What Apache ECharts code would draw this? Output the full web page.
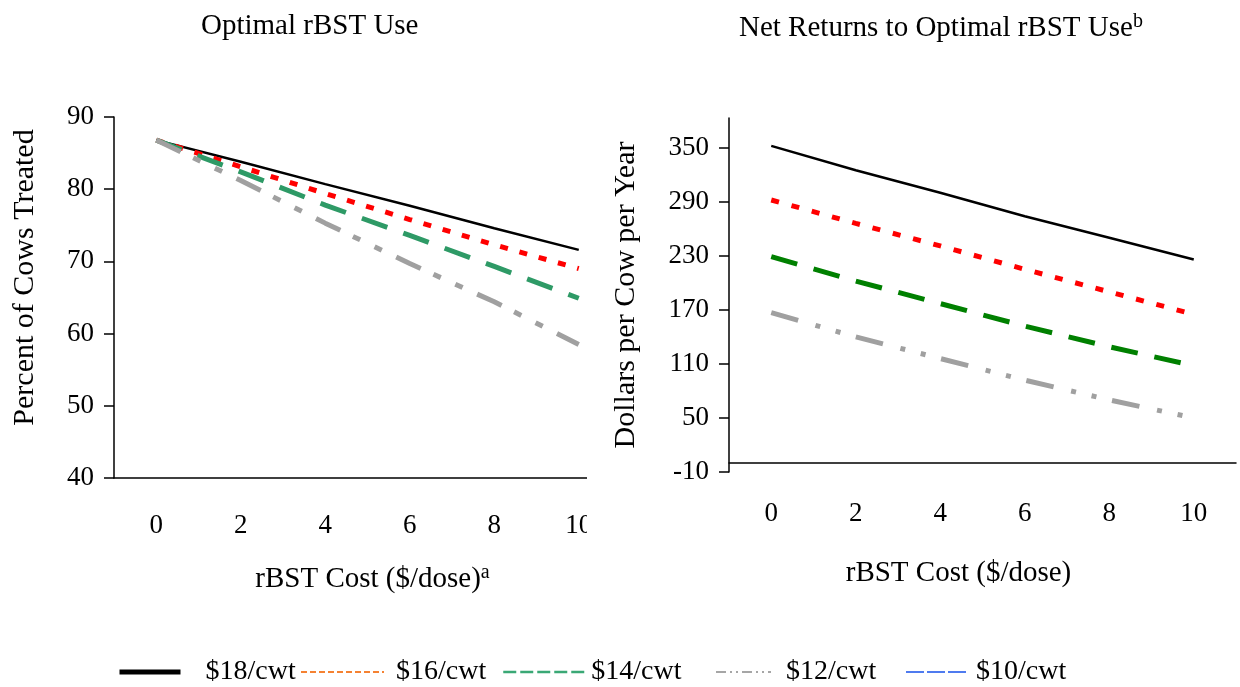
<!DOCTYPE html>
<html>
<head>
<meta charset="utf-8">
<script src="https://cdn.jsdelivr.net/npm/echarts@6/dist/echarts.min.js"></script>
<style>
  body { margin: 0; background: #fff; }
  #main { position: absolute; left: 0; top: 0; width: 1240px; height: 687px; }
  #clip { position: absolute; left: 0; top: 0; width: 587px; height: 620px; overflow: hidden; }
  #left { position: absolute; left: 0; top: 0; width: 640px; height: 620px; }
</style>
</head>
<body>
<div id="main"></div>
<div id="clip"><div id="left"></div></div>
<script>
// rBST cost categories ($/dose)
var costLabels = ['0', '2', '4', '6', '8', '10'];
var priceNames = ['$18/cwt', '$16/cwt', '$14/cwt', '$12/cwt', '$10/cwt'];

// percent of cows treated (left panel)
var pct18 = [86.8, 83.8, 80.7, 77.7, 74.6, 71.6];
var pct16 = [86.8, 83.1, 79.4, 75.8, 72.3, 69.0];
var pct14 = [86.8, 82.4, 77.8, 73.6, 69.3, 64.9];
var pct12 = [86.8, 81.2, 75.3, 69.7, 64.4, 58.5];

// net returns, dollars per cow per year (right panel)
var ret18 = [352, 325, 300, 274, 250, 226];
var ret16 = [292, 266, 241, 215, 190, 165];
var ret14 = [229, 202, 177, 152, 129, 108];
var ret12 = [167, 140, 116, 92, 70, 50];
var ret10 = [];

var rightTicks = [-10, 50, 110, 170, 230, 290, 350];

var FONT = 'Liberation Serif';
var txt = { fontFamily: FONT, fontSize: 27, color: '#000' };
var richSup = {
  m: { fontFamily: FONT, fontSize: 29, fontWeight: 'normal', color: '#000', lineHeight: 32 },
  s: { fontFamily: FONT, fontSize: 20, fontWeight: 'normal', color: '#000', verticalAlign: 'top', lineHeight: 32, padding: [0, 0, 17, 0] }
};

function lineSeries(name, data, color, width, dash) {
  return {
    name: name,
    type: 'line',
    data: data,
    symbol: 'none',
    silent: true,
    itemStyle: { color: color },
    lineStyle: { color: color, width: width, type: dash || 'solid', cap: 'butt' }
  };
}

function baseAxisX(nameText, nameGap, pad, labelMargin) {
  return {
    type: 'category',
    data: costLabels,
    boundaryGap: true,
    axisLine: { lineStyle: { color: '#000', width: 1.5 } },
    axisTick: { inside: false, length: 9, lineStyle: { color: '#000', width: 1.5 } },
    axisLabel: Object.assign({ margin: labelMargin }, txt),
    name: nameText,
    nameLocation: 'middle',
    nameGap: nameGap,
    nameTextStyle: { fontFamily: FONT, fontSize: 29, color: '#000', padding: pad, rich: richSup }
  };
}

// ---- left panel (clipped on the right like the original) ----
var leftChart = echarts.init(document.getElementById('left'));
leftChart.setOption({
  animation: false,
  title: {
    text: 'Optimal rBST Use',
    left: 201, top: 12, padding: 0,
    textStyle: { fontFamily: FONT, fontSize: 29, fontWeight: 'normal', color: '#000' }
  },
  grid: { left: 114, top: 117, width: 507, height: 361 },
  xAxis: baseAxisX('{m|rBST Cost ($/dose)}{s|a}', 85, [0, 0, 0, 10], 34),
  yAxis: {
    type: 'value',
    min: 40, max: 90, interval: 10,
    axisLine: { show: true, lineStyle: { color: '#000', width: 1.5 } },
    axisTick: { show: true, length: 10, lineStyle: { color: '#000', width: 1.5 } },
    axisLabel: Object.assign({ margin: 20 }, txt),
    splitLine: { show: false },
    name: 'Percent of Cows Treated',
    nameLocation: 'middle',
    nameGap: 74,
    nameTextStyle: { fontFamily: FONT, fontSize: 30, color: '#000', padding: [0, 0, 0, 40] }
  },
  series: [
    lineSeries(priceNames[0], pct18, '#000000', 2.5),
    lineSeries(priceNames[1], pct16, '#ff0000', 5, [8, 12]),
    lineSeries(priceNames[2], pct14, '#2e9a66', 5, [27, 17]),
    lineSeries(priceNames[3], pct12, '#a0a0a0', 5, [27, 14, 8, 16, 8, 16])
  ]
});

// ---- right panel + shared legend ----
var legendSpec = [
  { left: 117, w: 61, pad: 20, line: { color: '#000000', width: 5, type: 'solid' } },
  { left: 300, w: 83, pad: 7, line: { color: '#f58232', width: 2, type: [6, 3] } },
  { left: 502, w: 83, pad: 0, line: { color: '#3aa875', width: 2.5, type: [13, 4] } },
  { left: 715, w: 55, pad: 10, line: { color: '#a6a6a6', width: 2, type: [10, 4, 2, 4, 2, 4] } },
  { left: 905, w: 60, pad: 5, line: { color: '#4f7bef', width: 2, type: [18, 3] } }
];
var legends = legendSpec.map(function (s, i) {
  return {
    data: [{ name: priceNames[i], lineStyle: s.line, itemStyle: { opacity: 0 } }],
    left: s.left, top: 658, padding: 0,
    itemWidth: s.w, itemHeight: 14,
    selectedMode: false,
    textStyle: { fontFamily: FONT, fontSize: 28, color: '#000', padding: [0, 0, 0, s.pad] }
  };
});

var mainChart = echarts.init(document.getElementById('main'));
mainChart.setOption({
  animation: false,
  title: {
    text: '{m|Net Returns to Optimal rBST Use}{s|b}',
    left: 739, top: 12, padding: 0,
    textStyle: { fontFamily: FONT, fontSize: 29, fontWeight: 'normal', color: '#000', rich: richSup }
  },
  legend: legends,
  grid: { left: 729, top: 118, width: 507, height: 354 },
  xAxis: baseAxisX('rBST Cost ($/dose)', 87, [0, 48, 0, 0], 28),
  yAxis: {
    type: 'value',
    min: -10, max: 383,
    axisLine: { show: true, lineStyle: { color: '#000', width: 1.5 } },
    axisTick: { show: true, length: 10, customValues: rightTicks, lineStyle: { color: '#000', width: 1.5 } },
    axisLabel: Object.assign({ margin: 20, customValues: rightTicks }, txt),
    splitLine: { show: false },
    name: 'Dollars per Cow per Year',
    nameLocation: 'middle',
    nameGap: 88,
    nameTextStyle: { fontFamily: FONT, fontSize: 30, color: '#000' }
  },
  series: [
    lineSeries(priceNames[0], ret18, '#000000', 2.5),
    lineSeries(priceNames[1], ret16, '#ff0000', 5, [8, 13]),
    lineSeries(priceNames[2], ret14, '#008000', 5, [27, 17]),
    lineSeries(priceNames[3], ret12, '#a0a0a0', 5, [28, 18, 5, 16, 5, 16]),
    lineSeries(priceNames[4], ret10, '#4f7bef', 2)
  ]
});
</script>
</body>
</html>
